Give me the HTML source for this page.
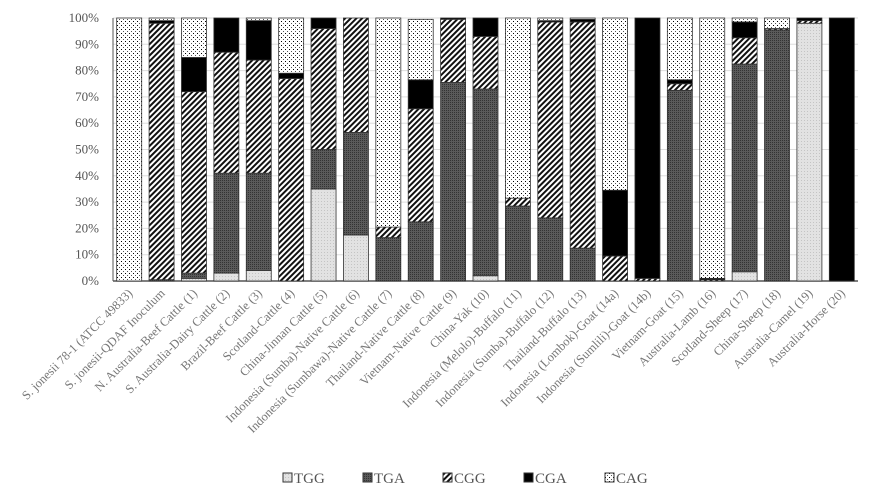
<!DOCTYPE html>
<html><head><meta charset="utf-8"><style>
body{margin:0;background:#fff}
svg text{font-family:"Liberation Serif",serif}
</style></head><body>
<svg id="c" width="876" height="498">
<defs>
<pattern id="pTGG" width="3" height="3" patternUnits="userSpaceOnUse"><rect width="3" height="3" fill="#e2e2e2"/><rect width="1" height="1" fill="#c4c4c4"/></pattern>
<pattern id="pTGA" width="2" height="2" patternUnits="userSpaceOnUse"><rect width="2" height="2" fill="#5a5a5a"/><rect width="1" height="1" fill="#333"/></pattern>
<pattern id="pCGG" width="4" height="4" patternUnits="userSpaceOnUse" patternTransform="rotate(45)"><rect width="4" height="4" fill="#fff"/><rect width="2" height="4" fill="#111"/></pattern>
<pattern id="pCAG" width="4" height="4" patternUnits="userSpaceOnUse"><rect width="4" height="4" fill="#fff"/><rect x="1" y="1" width="1" height="1" fill="#000"/><rect x="3" y="3" width="1" height="1" fill="#555"/></pattern>
</defs>
<g id="grid"></g><g id="bars"></g><g id="labels"></g><g id="legend"></g>
</svg>
<script>
const categories=["S. jonesii 78-1 (ATCC 49833)","S. jonesii-QDAF Inoculum","N. Australia-Beef Cattle (1)","S. Australia-Dairy Cattle (2)","Brazil-Beef Cattle (3)","Scotland-Cattle (4)","China-Jinnan Cattle (5)","Indonesia (Sumba)-Native Cattle (6)","Indonesia (Sumbawa)-Native Cattle (7)","Thailand-Native Cattle (8)","Vietnam-Native Cattle (9)","China-Yak (10)","Indonesia (Melolo)-Buffalo (11)","Indonesia (Sumba)-Buffalo (12)","Thailand-Buffalo (13)","Indonesia (Lombok)-Goat (14a)","Indonesia (Sumlili)-Goat (14b)","Vietnam-Goat (15)","Australia-Lamb (16)","Scotland-Sheep (17)","China-Sheep (18)","Australia-Camel (19)","Australia-Horse (20)"];
const seriesNames=["TGG","TGA","CGG","CGA","CAG"];
const TGG=[0,0,1,3,4,0,35,17.5,0,0,0,2,0,0,0,0,0,0,0,3.5,0,98,0];
const TGA=[0,0.5,2,38,37,0,15,39,16.5,22.5,75.5,71,28.5,24,12.5,0,0,72.5,0,79,95.5,0,0];
const CGG=[0,97.5,69,46,43,77,46,43.5,4,43,24,20,3,74.5,86,9.5,1,2.5,0.5,10,0.5,1,0];
const CGA=[0,1,13,13,15,2,4,0,0,11,0.5,7,0,0.5,1,25,99,1.5,0.5,6,0,1,100];
const CAG=[100,1,15,0,1,21,0,0,79.5,23,0,0,68.5,1,0.5,65.5,0,23.5,99,1.5,4,0,0];
const yTicks=[0,10,20,30,40,50,60,70,80,90,100];
const ns="http://www.w3.org/2000/svg";
const X0=113,X1=858,Y0=281,Y1=18,n=categories.length,step=(X1-X0)/n,bw=25;
const y=v=>Y0-(Y0-Y1)*v/100;
const xc=i=>X0+step*(i+0.5);
function mk(t,a,p){const e=document.createElementNS(ns,t);for(const k in a)e.setAttribute(k,a[k]);p.appendChild(e);return e;}
const grid=document.getElementById('grid');
yTicks.forEach(t=>{
 const l=mk('line',{x1:X0,x2:X1,y1:y(t),y2:y(t),stroke:'#ddd','stroke-width':1},grid);
 
 
 const tx=mk('text',{x:X0-14,y:y(t)+4,'text-anchor':'end','font-size':13,fill:'#555'},grid);
 tx.textContent=t+'%';
 
 
});
const ax=mk('line',{x1:X0,x2:X1,y1:Y0,y2:Y0,stroke:'#555','stroke-width':1.5},grid);


const ya=mk('line',{x1:X0,x2:X0,y1:Y0,y2:Y1,stroke:'#555','stroke-width':1},grid);


const series=[TGG,TGA,CGG,CGA,CAG];
const fills=['url(#pTGG)','url(#pTGA)','url(#pCGG)','#000','url(#pCAG)'];
const bars=document.getElementById('bars');
categories.forEach((c,i)=>{
 let acc=0;
 series.forEach((s,k)=>{
  const v=s[i]; if(v<=0) return;
  const r=mk('rect',{x:xc(i)-bw/2,y:y(acc+v),width:bw,height:y(acc)-y(acc+v),fill:fills[k],stroke:'#333','stroke-width':0.8},bars);
  
  
  acc+=v;
 });
 const t=mk('text',{x:0,y:0,'text-anchor':'end','font-size':12.5,fill:'#777',transform:`translate(${xc(i)+4},${Y0+13}) rotate(-45)`},document.getElementById('labels'));
 t.textContent=c;
 
 
});
const lg=document.getElementById('legend');
const lx=[283,363,443,524,605];
seriesNames.forEach((s,k)=>{
 const g=mk('g',{},lg);
 
 
 mk('rect',{x:lx[k],y:473,width:9,height:9,fill:fills[k],stroke:'#333','stroke-width':1},g);
 const t=mk('text',{x:lx[k]+11,y:483,'font-size':15,fill:'#555'},g);
 t.textContent=s;
});
</script>
</body></html>
